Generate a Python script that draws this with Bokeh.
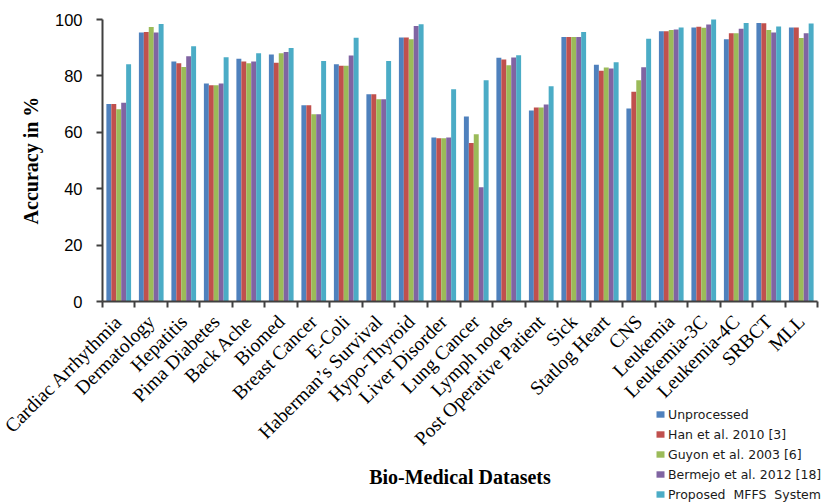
from math import pi
from bokeh.plotting import figure
from bokeh.models import ColumnDataSource, Range1d, FixedTicker, Legend, LegendItem, Label
from bokeh.transform import dodge
from bokeh.embed import file_html
from bokeh.resources import INLINE

categories = ["Cardiac Arrhythmia", "Dermatology", "Hepatitis", "Pima Diabetes", "Back Ache",
              "Biomed", "Breast Cancer", "E-Coli", "Haberman\u2019s Survival", "Hypo-Thyroid",
              "Liver Disorder", "Lung Cancer", "Lymph nodes", "Post Operative Patient", "Sick",
              "Statlog Heart", "CNS", "Leukemia", "Leukemia-3C", "Leukemia-4C", "SRBCT", "MLL"]

unprocessed = [70.0, 95.4, 85.1, 77.3, 86.1, 87.6, 69.6, 84.1, 73.5, 93.6, 58.2, 65.6,
               86.4, 67.7, 93.8, 84.0, 68.4, 95.8, 97.2, 93.0, 98.8, 97.2]
han2010 = [70.0, 95.6, 84.5, 76.7, 85.1, 84.7, 69.6, 83.6, 73.5, 93.6, 57.9, 56.2,
           85.8, 68.8, 93.8, 81.8, 74.4, 95.8, 97.4, 95.1, 98.7, 97.2]
guyon2003 = [68.2, 97.3, 83.2, 76.7, 84.5, 88.0, 66.4, 83.6, 71.7, 93.0, 57.9, 59.3,
             83.8, 68.8, 93.8, 83.0, 78.5, 96.3, 97.1, 95.1, 96.3, 93.4]
bermejo2012 = [70.5, 95.4, 87.0, 77.3, 85.1, 88.5, 66.4, 87.2, 71.7, 97.7, 58.2, 40.5,
               86.5, 69.9, 93.8, 82.6, 83.1, 96.5, 98.2, 96.7, 95.4, 95.1]
proposed = [84.1, 98.4, 90.5, 86.6, 88.0, 89.9, 85.3, 93.5, 85.3, 98.3, 75.3, 78.5,
            87.3, 76.3, 95.6, 84.8, 93.2, 97.2, 100.0, 98.8, 97.5, 98.6]

series_names = ["Unprocessed", "Han et al. 2010 [3]", "Guyon et al. 2003 [6]",
                "Bermejo et al. 2012 [18]", "Proposed  MFFS  System"]
series_keys = ["unprocessed", "han2010", "guyon2003", "bermejo2012", "proposed"]
colors = ["#4F81BD", "#C0504D", "#9BBB59", "#8064A2", "#4BACC6"]
y_ticks = [0, 20, 40, 60, 80, 100]
x_title = "Bio-Medical Datasets"
y_title = "Accuracy in %"

n = len(categories)
src = ColumnDataSource(dict(
    x=[i + 0.5 for i in range(n)],
    unprocessed=unprocessed, han2010=han2010, guyon2003=guyon2003,
    bermejo2012=bermejo2012, proposed=proposed,
))

# The frame covers the whole canvas; both axes are pinned at 0 so that
# tick labels, titles and the legend below the bars are not clipped.
p = figure(width=824, height=503, output_backend="svg", toolbar_location=None,
           x_range=Range1d(-3.138, 22.215), y_range=Range1d(-71.63, 106.74),
           min_border_left=0, min_border_right=0, min_border_top=0, min_border_bottom=0)
p.outline_line_color = None
p.xgrid.grid_line_color = None
p.ygrid.grid_line_color = None
p.background_fill_color = "white"

bw = 0.152
offsets = [-2 * bw, -bw, 0, bw, 2 * bw]
renderers = []
for key, off, c in zip(series_keys, offsets, colors):
    r = p.vbar(x=dodge("x", off, range=p.x_range), top=key, width=bw, bottom=0,
               source=src, fill_color=c, line_color=None)
    renderers.append(r)

axis_color = "#404040"
xa = p.xaxis[0]
xa.fixed_location = 0
xa.bounds = (0, n)
xa.ticker = FixedTicker(ticks=[i + 0.5 for i in range(n)], minor_ticks=list(range(n + 1)))
xa.major_label_overrides = {i + 0.5: cat for i, cat in enumerate(categories)}
xa.major_label_orientation = pi / 4
xa.major_label_text_font = "Liberation Serif"
xa.major_label_text_font_size = "19.5px"
xa.major_label_text_color = "black"
xa.major_tick_line_color = None
xa.major_tick_out = 4
xa.major_tick_in = 0
xa.minor_tick_line_color = axis_color
xa.minor_tick_line_width = 2
xa.minor_tick_out = 6
xa.minor_tick_in = 0
xa.axis_line_color = axis_color
xa.axis_line_width = 2
xa.major_label_standoff = 11

ya = p.yaxis[0]
ya.fixed_location = 0
ya.bounds = (0, 100)
ya.ticker = FixedTicker(ticks=y_ticks)
ya.major_label_text_font = "Liberation Sans"
ya.major_label_text_font_size = "16.5px"
ya.major_label_text_color = "black"
ya.major_tick_line_color = axis_color
ya.major_tick_line_width = 2
ya.major_tick_out = 6
ya.major_tick_in = 0
ya.minor_tick_line_color = None
ya.axis_line_color = axis_color
ya.axis_line_width = 2
ya.major_label_standoff = 14

p.add_layout(Label(x=30, y=50, x_units="screen", text=y_title, angle=pi / 2,
                   text_align="center", text_baseline="middle",
                   text_font="Liberation Serif", text_font_style="bold",
                   text_font_size="20px", text_color="black"))
p.add_layout(Label(x=n / 2, y=27, y_units="screen", text=x_title,
                   text_align="center", text_baseline="middle",
                   text_font="Liberation Serif", text_font_style="bold",
                   text_font_size="20px", text_color="black"))

legend = Legend(items=[LegendItem(label=nm, renderers=[r]) for nm, r in zip(series_names, renderers)],
                location=(655, 1))
legend.label_text_font = "DejaVu Sans"
legend.label_text_font_size = "12.5px"
legend.label_text_color = "#1a1a1a"
legend.glyph_width = 10
legend.glyph_height = 8
legend.label_height = 16
legend.spacing = 4
legend.label_standoff = 3
legend.padding = 0
legend.margin = 0
legend.border_line_color = None
legend.background_fill_alpha = 0
p.add_layout(legend, "center")

open("out.html", "w").write(file_html(p, INLINE))
